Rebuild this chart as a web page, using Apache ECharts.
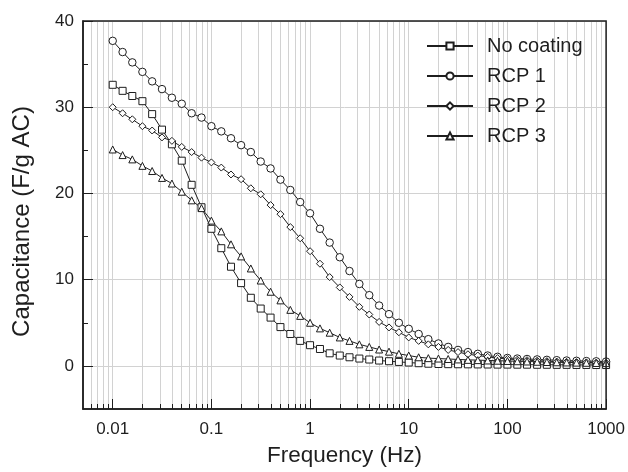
<!DOCTYPE html>
<html><head><meta charset="utf-8">
<script src="https://cdn.jsdelivr.net/npm/echarts@6/dist/echarts.min.js"></script>
<style>html,body{margin:0;padding:0;background:#fff}#c{width:628px;height:472px}</style>
</head><body><div id="c"></div>
<script>
const frequency = [0.01,0.0126,0.0158,0.02,0.0251,0.0316,0.0398,0.0501,0.0631,0.0794,
  0.1,0.126,0.158,0.2,0.251,0.316,0.398,0.501,0.631,0.794,
  1,1.26,1.58,2,2.51,3.16,3.98,5.01,6.31,7.94,
  10,12.6,15.8,20,25.1,31.6,39.8,50.1,63.1,79.4,
  100,126,158,200,251,316,398,501,631,794,1000];
const noCoating = [32.6,31.9,31.3,30.7,29.2,27.4,25.7,23.8,21.0,18.4,
  15.9,13.65,11.5,9.6,7.9,6.65,5.6,4.5,3.7,2.9,
  2.4,1.96,1.46,1.2,1.0,0.85,0.74,0.62,0.54,0.46,
  0.39,0.31,0.25,0.22,0.2,0.19,0.18,0.17,0.16,0.15,
  0.15,0.14,0.14,0.13,0.13,0.12,0.12,0.11,0.11,0.1,0.1];
const rcp1 = [37.7,36.4,35.2,34.1,33.0,32.1,31.1,30.4,29.3,28.8,
  27.8,27.2,26.4,25.6,24.8,23.7,22.9,21.6,20.4,19.0,
  17.7,15.9,14.3,12.6,11.0,9.5,8.2,7.0,6.0,5.0,
  4.3,3.7,3.1,2.6,2.2,1.85,1.6,1.4,1.2,1.05,
  0.92,0.85,0.8,0.75,0.7,0.66,0.62,0.59,0.56,0.53,0.5];
const rcp2 = [30.0,29.3,28.6,27.8,27.3,26.5,26.1,25.4,24.8,24.15,
  23.6,23.0,22.2,21.65,20.6,19.9,18.65,17.6,16.1,14.8,
  13.3,11.85,10.3,9.1,8.0,6.85,5.96,5.1,4.46,3.9,
  3.3,2.9,2.5,2.2,1.85,1.6,1.35,1.2,1.05,0.9,
  0.8,0.72,0.66,0.6,0.55,0.5,0.47,0.44,0.41,0.38,0.35];
const rcp3 = [25.1,24.45,23.95,23.2,22.6,21.8,21.15,20.2,19.2,18.3,
  16.85,15.6,14.1,12.7,11.3,9.9,8.6,7.6,6.5,5.8,
  5.0,4.35,3.85,3.3,2.9,2.5,2.2,1.9,1.65,1.4,
  1.2,1.0,0.9,0.85,0.8,0.75,0.7,0.67,0.63,0.6,
  0.57,0.54,0.51,0.48,0.45,0.42,0.4,0.38,0.36,0.34,0.32];
const seriesNames = ['No coating','RCP 1','RCP 2','RCP 3'];
const xMajorTicks = [0.01,0.1,1,10,100,1000];
const xMinorTicks = [0.006,0.007,0.008,0.009,
  0.02,0.03,0.04,0.05,0.06,0.07,0.08,0.09,
  0.2,0.3,0.4,0.5,0.6,0.7,0.8,0.9,
  2,3,4,5,6,7,8,9,
  20,30,40,50,60,70,80,90,
  200,300,400,500,600,700,800,900];
const yMajorTicks = [0,10,20,30,40];
const yMinorTicks = [5,15,25,35];

const FONT = '"Liberation Sans", Arial, sans-serif';
const INK = '#1e1e1e';
const GRID = '#d2d2d2';
function pairs(ys){ return frequency.map((f,i)=>[f, ys[i]]); }

const chart = echarts.init(document.getElementById('c'), null, {renderer:'canvas'});
function mk(name, ys, symbol, size){
  return {
    name, type:'line', data:pairs(ys), xAxisIndex:0, yAxisIndex:0,
    symbol, symbolSize:size, showAllSymbol:true,
    lineStyle:{color:INK, width:1},
    itemStyle:{color:'#fff', borderColor:INK, borderWidth:1},
    emphasis:{disabled:true}, z:3
  };
}
const option = {
  animation:false,
  grid:{left:83, right:21, top:21, bottom:60, show:true, borderColor:INK, borderWidth:1.5, backgroundColor:'transparent', z:5},
  legend:{
    orient:'vertical', left:426, top:36, padding:0, itemWidth:46, itemHeight:9, itemGap:10,
    data:seriesNames, selectedMode:false,
    textStyle:{fontSize:20, color:INK, fontFamily:FONT, lineHeight:20, padding:[0,0,0,9]}
  },
  xAxis:[
    {type:'log', logBase:10, min:0.005, max:1000, position:'bottom',
     axisLine:{show:true, onZero:false, lineStyle:{color:INK, width:1.5}},
     axisTick:{show:true, inside:true, length:10, customValues:xMajorTicks, lineStyle:{color:INK, width:1}},
     axisLabel:{customValues:xMajorTicks, formatter:v=>String(v), fontSize:17, color:INK, margin:12, fontFamily:FONT},
     splitLine:{show:true, lineStyle:{color:GRID, width:1}},
     name:'Frequency (Hz)', nameLocation:'middle', nameGap:35,
     nameTextStyle:{fontSize:22.5, color:INK, fontFamily:FONT}},
    {type:'log', logBase:10, min:0.005, max:1000, position:'bottom',
     axisLine:{show:false, onZero:false},
     axisTick:{show:true, inside:true, length:5, customValues:xMinorTicks, lineStyle:{color:INK, width:1}},
     axisLabel:{show:false},
     splitLine:{show:true, lineStyle:{color:GRID, width:1}}}
  ],
  yAxis:[
    {type:'value', min:-5, max:40, position:'left',
     axisLine:{show:true, onZero:false, lineStyle:{color:INK, width:1.5}},
     axisTick:{show:true, inside:true, length:10, customValues:yMajorTicks, lineStyle:{color:INK, width:1}},
     axisLabel:{customValues:yMajorTicks, fontSize:17, color:INK, margin:9, fontFamily:FONT},
     splitLine:{show:true, lineStyle:{color:GRID, width:1}},
     name:'Capacitance (F/g AC)', nameLocation:'middle', nameGap:49,
     nameTextStyle:{fontSize:24, color:INK, fontFamily:FONT, padding:[0,13,0,0]}},
    {type:'value', min:-5, max:40, position:'left',
     axisLine:{show:false, onZero:false},
     axisTick:{show:true, inside:true, length:5, customValues:yMinorTicks, lineStyle:{color:INK, width:1}},
     axisLabel:{show:false},
     splitLine:{show:false}}
  ],
  series:[
    mk('No coating', noCoating, 'rect', 7),
    mk('RCP 1', rcp1, 'circle', 7.5),
    mk('RCP 2', rcp2, 'diamond', 7),
    mk('RCP 3', rcp3, 'triangle', 7)
  ]
};
chart.setOption(option);
</script>
</body></html>
